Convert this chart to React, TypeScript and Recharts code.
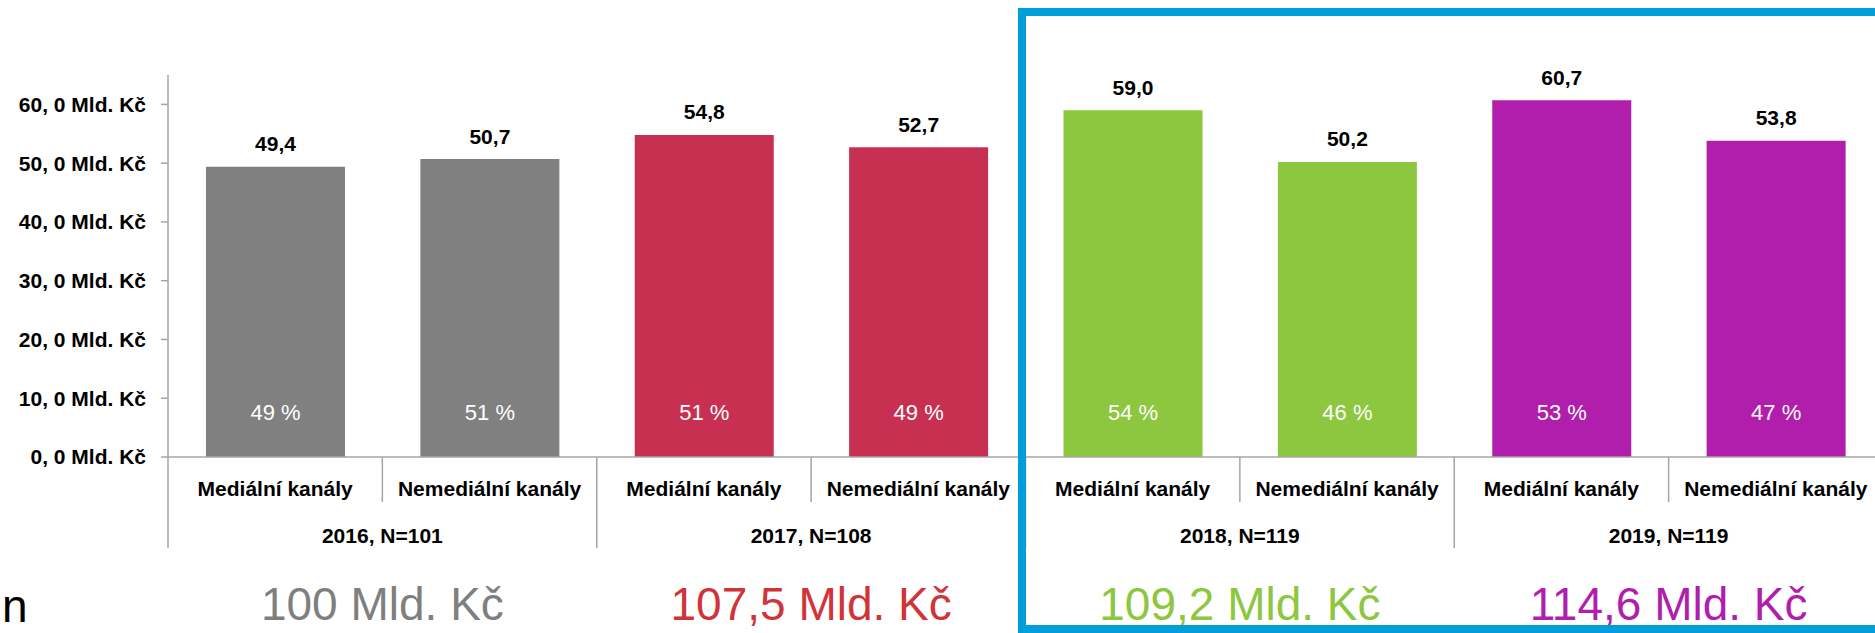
import { Bar, BarChart, Cell, LabelList, XAxis, YAxis } from "recharts";

const years = ["2016, N=101", "2017, N=108", "2018, N=119", "2019, N=119"];
const channels = ["Mediální kanály", "Nemediální kanály"];
// billions CZK per channel, two bars per year
const values = [49.4, 50.7, 54.8, 52.7, 59.0, 50.2, 60.7, 53.8];
const shares = [49, 51, 51, 49, 54, 46, 53, 47];
const totals = ["100", "107,5", "109,2", "114,6"];
const yTicks = [0, 10, 20, 30, 40, 50, 60];

const BAR_COLORS = ["#808080", "#C83052", "#8DC63F", "#B01EAB"];
const TOTAL_COLORS = ["#7F7F7F", "#D13438", "#8DC63F", "#B01EAB"];
const AXIS_GRAY = "#A6A6A6";
const FONT = "'Liberation Sans', Arial, sans-serif";

const CHART_W = 1883;
const CHART_H = 633;
const Y_AXIS_W = 168;
const CAT_W = (CHART_W - Y_AXIS_W) / values.length;

const rows = values.map((value, i) => ({
  key: String(i),
  channel: channels[i % 2],
  group: Math.floor(i / 2),
  value,
  share: shares[i],
}));

const formatValue = (v: number) => v.toFixed(1).replace(".", ",");

function ValueLabel(props: any) {
  const { x, y, width, value } = props;
  return (
    <text
      x={Number(x) + Number(width) / 2}
      y={Number(y) - 23}
      textAnchor="middle"
      dominantBaseline="central"
      fill="#000"
      fontSize={21}
      fontWeight="bold"
      fontFamily={FONT}
    >
      {formatValue(Number(value))}
    </text>
  );
}

function ShareLabel(props: any) {
  const { x, y, width, height, value } = props;
  return (
    <text
      x={Number(x) + Number(width) / 2}
      y={Number(y) + Number(height) - 45}
      textAnchor="middle"
      dominantBaseline="central"
      fill="#fff"
      fontSize={22}
      fontFamily={FONT}
    >
      {`${value} %`}
    </text>
  );
}

// two-level category axis: channel under each bar, year + total under each pair
function CategoryTick(props: any) {
  const { x, y, index } = props;
  const row = rows[index];
  if (!row) return null;
  const first = index % 2 === 0;
  const groupX = x + CAT_W / 2;
  return (
    <g fontFamily={FONT}>
      <line
        x1={x - CAT_W / 2}
        x2={x - CAT_W / 2}
        y1={y}
        y2={first ? y + 91 : y + 45}
        stroke={AXIS_GRAY}
        strokeWidth={1.5}
      />
      {index === rows.length - 1 && (
        <line x1={x + CAT_W / 2} x2={x + CAT_W / 2} y1={y} y2={y + 91} stroke={AXIS_GRAY} strokeWidth={1.5} />
      )}
      <text x={x} y={y + 31} textAnchor="middle" dominantBaseline="central" fontSize={21} fontWeight="bold" fill="#000">
        {row.channel}
      </text>
      {first && (
        <>
          <text x={groupX} y={y + 78} textAnchor="middle" dominantBaseline="central" fontSize={21} fontWeight="bold" fill="#000">
            {years[row.group]}
          </text>
          <text x={groupX} y={y + 163} textAnchor="middle" fontSize={46} fill={TOTAL_COLORS[row.group]}>
            {`${totals[row.group]} Mld. Kč`}
          </text>
        </>
      )}
    </g>
  );
}

export default function App() {
  return (
    <div
      style={{
        position: "absolute",
        left: 0,
        top: 0,
        width: 1875,
        height: CHART_H,
        overflow: "hidden",
        background: "#fff",
      }}
    >
      <BarChart
        width={CHART_W}
        height={CHART_H}
        data={rows}
        margin={{ top: 75, right: 0, bottom: 0, left: 0 }}
        barSize={139}
      >
        <text x={2} y={622} fontSize={46} fontFamily={FONT} fill="#000">
          n
        </text>
        <YAxis
          domain={[0, 65]}
          ticks={yTicks}
          width={Y_AXIS_W}
          tickSize={7}
          tickMargin={15}
          tickFormatter={(v: number) => `${v}, 0 Mld. Kč`}
          tick={{ fill: "#000", fontSize: 21, fontWeight: "bold", fontFamily: FONT }}
          axisLine={{ stroke: AXIS_GRAY, strokeWidth: 1.5 }}
          tickLine={{ stroke: AXIS_GRAY, strokeWidth: 1.5 }}
        />
        <XAxis
          dataKey="key"
          height={176}
          interval={0}
          tickSize={0}
          tickMargin={0}
          tickLine={false}
          axisLine={{ stroke: AXIS_GRAY, strokeWidth: 1.5 }}
          tick={<CategoryTick />}
        />
        <Bar dataKey="value" isAnimationActive={false}>
          {rows.map((row) => (
            <Cell key={row.key} fill={BAR_COLORS[row.group]} />
          ))}
          <LabelList dataKey="value" content={<ValueLabel />} />
          <LabelList dataKey="share" content={<ShareLabel />} />
        </Bar>
      </BarChart>
      <div
        style={{
          position: "absolute",
          left: 1018,
          top: 8,
          width: 1000,
          height: 625,
          boxSizing: "border-box",
          border: "8px solid #009FDA",
          pointerEvents: "none",
        }}
      />
    </div>
  );
}
